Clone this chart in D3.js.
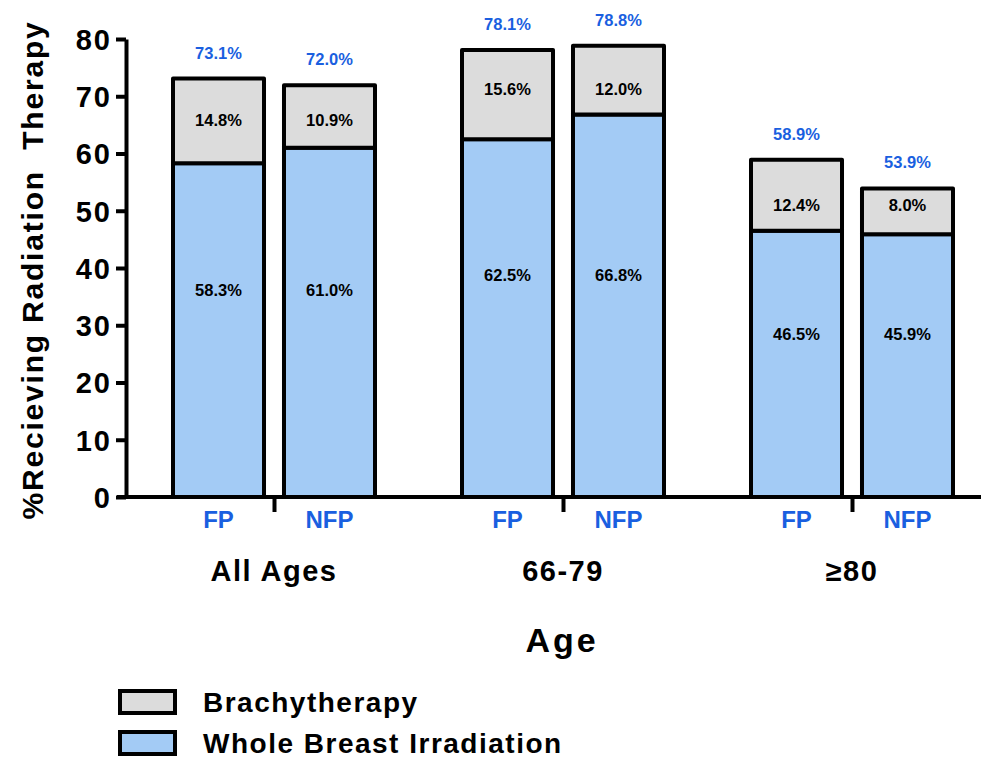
<!DOCTYPE html>
<html>
<head>
<meta charset="utf-8">
<script src="https://cdn.jsdelivr.net/npm/d3@7"></script>
<style>
  body { margin: 0; background: #fff; overflow: hidden; }
  text { font-family: "Liberation Sans", Arial, sans-serif; font-weight: bold; }
</style>
</head>
<body>
<div id="chart"></div>
<script>
// Chart data
const groups = ['All Ages', '66-79', '\u226580'];
const subgroups = ['FP', 'NFP'];
const wholeBreast = [58.3, 61.0, 62.5, 66.8, 46.5, 45.9];
const brachy = [14.8, 10.9, 15.6, 12.0, 12.4, 8.0];
const totals = [73.1, 72.0, 78.1, 78.8, 58.9, 53.9];
const yTicks = [0, 10, 20, 30, 40, 50, 60, 70, 80];
const seriesNames = ['Brachytherapy', 'Whole Breast Irradiation'];

const colors = { brachy: '#dcdcdc', whole: '#a3cbf5', blue: '#1a5fe0' };

const rows = [];
groups.forEach((g, gi) => {
    subgroups.forEach((s, si) => {
        const i = gi * subgroups.length + si;
        rows.push({ group: g, gi: gi, sub: s, whole: wholeBreast[i], brachy: brachy[i], total: totals[i] });
    });
});

// Labels inside the segments sit at the same height for both bars of a group
const groupWholeLabel = groups.map((g, gi) => 0.62 * d3.min(rows.filter(r => r.gi === gi), r => r.whole));
const groupBrachyLabel = groups.map((g, gi) => d3.mean(rows.filter(r => r.gi === gi), r => r.whole + r.brachy / 2) - 1);

const W = 981, H = 759;
const svg = d3.select('#chart').append('svg')
    .attr('width', W)
    .attr('height', H);

// Scales
const y = d3.scaleLinear().domain([0, 80]).range([497, 39]);
const xGroup = d3.scalePoint().domain(groups).range([274, 852]);
const xSub = d3.scaleBand().domain(subgroups).range([-101, 101]).paddingInner(0.18);

// Y axis
const yAxis = svg.append('g')
    .attr('transform', 'translate(126,0)')
    .call(d3.axisLeft(y).tickValues(yTicks).tickSize(10).tickPadding(4).tickSizeOuter(0));
yAxis.select('.domain').attr('stroke-width', 4).attr('stroke', '#000');
yAxis.selectAll('.tick line').attr('stroke-width', 4).attr('stroke', '#000');
yAxis.selectAll('.tick text')
    .style('font-size', '29px')
    .style('letter-spacing', '2px')
    .attr('fill', '#000')
    .attr('dy', '0.36em');

// X axis
const xAxis = svg.append('g')
    .attr('transform', `translate(0,${y(0)})`)
    .call(d3.axisBottom(xGroup).tickSize(15).tickFormat(''));
xAxis.select('.domain').remove();
xAxis.selectAll('.tick line').attr('stroke-width', 4).attr('stroke', '#000');
xAxis.append('line')
    .attr('x1', 117).attr('x2', W)
    .attr('stroke', '#000').attr('stroke-width', 4);

// Bars
const barG = svg.append('g').selectAll('.bar')
    .data(rows)
    .enter()
    .append('g')
    .attr('class', 'bar')
    .attr('transform', d => `translate(${xGroup(d.group) + xSub(d.sub)},0)`);

const bw = xSub.bandwidth();

barG.append('rect')
    .attr('x', 0)
    .attr('width', bw)
    .attr('y', d => y(d.whole))
    .attr('height', d => y(0) - y(d.whole))
    .attr('fill', colors.whole)
    .attr('stroke', '#000')
    .attr('stroke-width', 4);

barG.append('rect')
    .attr('x', 0)
    .attr('width', bw)
    .attr('y', d => y(d.whole + d.brachy))
    .attr('height', d => y(d.whole) - y(d.whole + d.brachy))
    .attr('fill', colors.brachy)
    .attr('stroke', '#000')
    .attr('stroke-width', 4)
    .attr('stroke-linejoin', 'round');

// Segment labels
barG.append('text')
    .attr('x', bw / 2)
    .attr('y', d => y(groupWholeLabel[d.gi]))
    .attr('dy', '0.35em')
    .attr('text-anchor', 'middle')
    .style('font-size', '16.5px')
    .text(d => d.whole.toFixed(1) + '%');

barG.append('text')
    .attr('x', bw / 2)
    .attr('y', d => y(groupBrachyLabel[d.gi]))
    .attr('dy', '0.1em')
    .attr('text-anchor', 'middle')
    .style('font-size', '16.5px')
    .text(d => d.brachy.toFixed(1) + '%');

barG.append('text')
    .attr('x', bw / 2)
    .attr('y', d => y(d.total) - 20)
    .attr('text-anchor', 'middle')
    .attr('fill', colors.blue)
    .style('font-size', '16.5px')
    .text(d => d.total.toFixed(1) + '%');

// Subgroup labels (FP / NFP)
barG.append('text')
    .attr('x', bw / 2)
    .attr('y', 528)
    .attr('text-anchor', 'middle')
    .attr('fill', colors.blue)
    .style('font-size', '24px')
    .text(d => d.sub);

// Group labels
svg.append('g').selectAll('text')
    .data(groups)
    .enter()
    .append('text')
    .attr('x', d => xGroup(d))
    .attr('y', 581)
    .attr('text-anchor', 'middle')
    .style('font-size', '29px')
    .style('letter-spacing', '1.5px')
    .text(d => d);

// Axis titles
svg.append('text')
    .attr('x', 562)
    .attr('y', 652)
    .attr('text-anchor', 'middle')
    .style('font-size', '34px')
    .style('letter-spacing', '3px')
    .text('Age');

svg.append('text')
    .attr('transform', 'translate(43,270) rotate(-90)')
    .attr('text-anchor', 'middle')
    .style('font-size', '30px')
    .style('letter-spacing', '1.8px')
    .style('white-space', 'pre')
    .attr('xml:space', 'preserve')
    .text('%Recieving Radiation  Therapy');

// Legend
const legendColors = [colors.brachy, colors.whole];
const legend = svg.append('g').selectAll('.legend-row')
    .data(seriesNames)
    .enter()
    .append('g')
    .attr('class', 'legend-row')
    .attr('transform', (d, i) => `translate(120,${691 + i * 41})`);

legend.append('rect')
    .attr('width', 55)
    .attr('height', 22)
    .attr('fill', (d, i) => legendColors[i])
    .attr('stroke', '#000')
    .attr('stroke-width', 4);

legend.append('text')
    .attr('x', 83)
    .attr('y', 11)
    .attr('dy', '0.34em')
    .style('font-size', '28px')
    .style('letter-spacing', '1.5px')
    .text(d => d);
</script>
</body>
</html>
